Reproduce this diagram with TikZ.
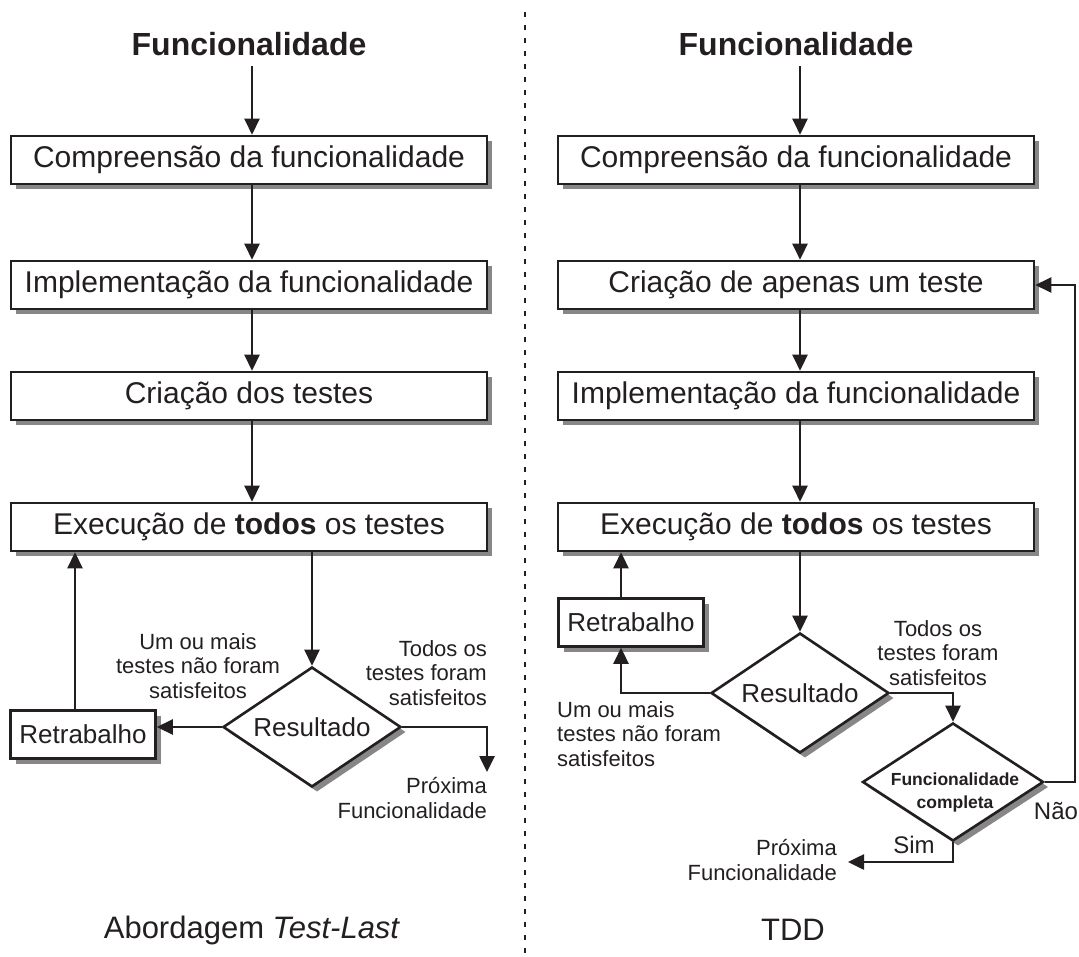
\documentclass[tikz,border=0pt]{standalone}
\usepackage{fontspec}
\setmainfont{Liberation Sans}
\usetikzlibrary{arrows.meta,shapes.geometric,shadows}
\definecolor{ink}{RGB}{35,31,32}
\definecolor{shade}{RGB}{135,135,135}

\begin{document}
\begin{tikzpicture}[
  x=1pt, y=-1pt,
  every node/.style={text=ink},
  boxshadow/.style={drop shadow={shadow xshift=5pt, shadow yshift=-5pt, fill=shade, opacity=1}},
  stepbox/.style={rectangle, draw=ink, line width=2.6pt, fill=white,
    minimum width=476pt, minimum height=48pt, inner sep=0pt,
    font=\fontsize{30}{36}\selectfont, boxshadow},
  reworkbox/.style={stepbox, minimum width=145pt, minimum height=48pt,
    font=\fontsize{26}{30}\selectfont},
  decision/.style={diamond, draw=ink, line width=2.6pt, fill=white,
    minimum width=178pt, minimum height=120pt, inner sep=0pt, aspect=1.48,
    font=\fontsize{26}{30}\selectfont, boxshadow},
  conn/.style={draw=ink, line width=2.6pt},
  arr/.style={conn, -{Triangle[length=16pt,width=15pt]}},
  lbl/.style={inner sep=0pt, font=\fontsize{22}{24.5}\selectfont},
  yesno/.style={inner sep=0pt, font=\fontsize{24}{28}\selectfont},
  heading/.style={inner sep=0pt, font=\bfseries\fontsize{32}{38}\selectfont},
  caption/.style={inner sep=0pt, font=\fontsize{31}{36}\selectfont}
]
\useasboundingbox (0,0) rectangle (1079,957);

% separator between the two approaches
\draw[ink, line width=2.2pt, dash pattern=on 5pt off 8pt] (525,12) -- (525,957);

% ---------------- Test-Last approach ----------------
\coordinate (La) at (252,0);
\coordinate (Lr) at (75,0);
\coordinate (Lend) at (487,772);

\node[heading] (lt) at (249,44) {Funcionalidade};
\node[stepbox] (l1) at (249,160) {Compreensão da funcionalidade};
\node[stepbox] (l2) at (249,285) {Implementação da funcionalidade};
\node[stepbox] (l3) at (249,396) {Criação dos testes};
\node[stepbox] (l4) at (249,527) {Execução de \textbf{todos} os testes};
\node[decision] (lres) at (312,727) {Resultado};
\node[reworkbox] (lrw) at (83,734.5) {Retrabalho};

\draw[arr] ([yshift=-10pt]lt.south -| La) -- (l1.north -| La);
\draw[arr] (l1.south -| La) -- (l2.north -| La);
\draw[arr] (l2.south -| La) -- (l3.north -| La);
\draw[arr] (l3.south -| La) -- (l4.north -| La);
\draw[arr] (l4.south -| lres) -- (lres.north);
\draw[arr] (lres.west) -- (lres.west -| lrw.east);
\draw[arr] (lrw.north -| Lr) -- (l4.south -| Lr);
\draw[arr] (lres.east) -| (Lend);

\node[lbl, align=center] (lfail) at (198,666) {Um ou mais\\testes não foram\\satisfeitos};
\node[lbl, align=right, anchor=east] (lpass) at (487,673) {Todos os\\testes foram\\satisfeitos};
\node[lbl, align=right, anchor=east] (lnext) at (487,798) {Próxima\\Funcionalidade};

\node[caption] (lcap) at (252,930) {Abordagem \textit{Test-Last}};

% ---------------- TDD ----------------
\coordinate (Ra) at (800,0);
\coordinate (Rr) at (621,0);
\coordinate (Rl) at (1075,0);
\coordinate (Rend) at (848,862);

\node[heading] (rt) at (796,44) {Funcionalidade};
\node[stepbox] (r1) at (796,160) {Compreensão da funcionalidade};
\node[stepbox] (r2) at (796,285) {Criação de apenas um teste};
\node[stepbox] (r3) at (796,396) {Implementação da funcionalidade};
\node[stepbox] (r4) at (796,527) {Execução de \textbf{todos} os testes};
\node[decision] (rres) at (800,693) {Resultado};
\node[reworkbox] (rrw) at (631,622.5) {Retrabalho};
\node[decision, minimum width=181pt, minimum height=118pt] (fc) at (953,782) {};
\node[inner sep=0pt, align=center, font=\bfseries\fontsize{17.5}{23}\selectfont] (fct) at (955,792) {Funcionalidade\\completa};

\draw[arr] ([yshift=-10pt]rt.south -| Ra) -- (r1.north -| Ra);
\draw[arr] (r1.south -| Ra) -- (r2.north -| Ra);
\draw[arr] (r2.south -| Ra) -- (r3.north -| Ra);
\draw[arr] (r3.south -| Ra) -- (r4.north -| Ra);
\draw[arr] (r4.south -| Ra) -- (rres.north);
\draw[arr] (rrw.north -| Rr) -- (r4.south -| Rr);
\draw[arr] (rres.west) -- (rres.west -| Rr) -- (rrw.south -| Rr);
\draw[arr] (rres.east) -| (fc.north);
\draw[arr] (fc.east) -- (fc.east -| Rl) -- (r2.east -| Rl) -- (r2.east);
\draw[arr] (fc.south) |- (Rend);

\node[lbl, align=left, anchor=west] (rfail) at (557,734) {Um ou mais\\testes não foram\\satisfeitos};
\node[lbl, align=center] (rpass) at (938,653) {Todos os\\testes foram\\satisfeitos};
\node[lbl, align=right, anchor=east] (rnext) at (837,860) {Próxima\\Funcionalidade};
\node[yesno] (sim) at (914,845) {Sim};
\node[yesno] (nao) at (1056,811) {Não};

\node[caption] (rcap) at (793,930) {TDD};
\end{tikzpicture}
\end{document}
